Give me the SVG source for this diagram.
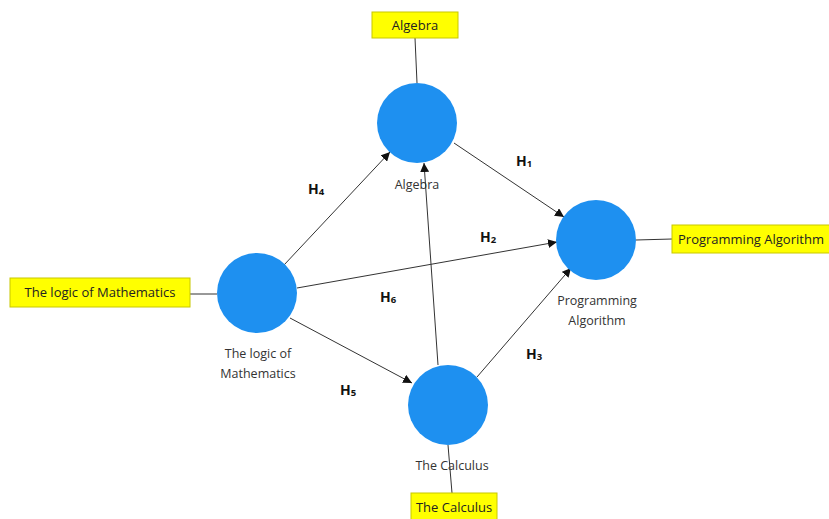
<svg xmlns="http://www.w3.org/2000/svg" width="829" height="519" viewBox="0 0 829 519">
<style>
.node{fill:#1e90f0;}
.lbl{font-family:"Open Sans","Liberation Sans",sans-serif;font-size:12.5px;fill:#333;text-anchor:middle;}
.box{fill:#ffff00;stroke:#c8c800;stroke-width:1;}
.btxt{font-family:"Open Sans","Liberation Sans",sans-serif;font-size:13px;fill:#222;}
.h{font-family:"Open Sans","Liberation Sans",sans-serif;font-size:14px;font-weight:bold;fill:#111;}
.sub{font-size:9.5px;}
.c{stroke:#333;stroke-width:1;fill:none;}
.a{stroke:#333;stroke-width:1;fill:none;marker-end:url(#arr);}
</style>
<defs>
<marker id="arr" viewBox="0 0 10 10" refX="10" refY="5" markerWidth="9" markerHeight="9" markerUnits="userSpaceOnUse" orient="auto">
<path d="M0,0 L10,5 L0,10 z" fill="#111"/>
</marker>
</defs>
<rect width="829" height="519" fill="#fff"/>
<g id="connectors">
<line class="c" x1="415" y1="38" x2="417" y2="83"/>
<line class="c" x1="190" y1="294" x2="217" y2="294"/>
<line class="c" x1="636" y1="240" x2="672" y2="239"/>
<line class="c" x1="448" y1="445" x2="452" y2="493"/>
<line class="a" x1="284" y1="265" x2="390" y2="152"/>
<line class="a" x1="454" y1="143" x2="564" y2="217"/>
<line class="a" x1="297" y1="288" x2="557" y2="242"/>
<line class="a" x1="438" y1="365" x2="424" y2="163"/>
<line class="a" x1="290" y1="318" x2="412" y2="383"/>
<line class="a" x1="477" y1="377" x2="571" y2="268"/>
</g>
<g id="algebra">
<circle class="node" cx="417" cy="123" r="40"/>
<text class="lbl" x="417" y="189">Algebra</text>
</g>
<g id="logic">
<circle class="node" cx="257" cy="293" r="40"/>
<text class="lbl" x="258" y="358">The logic of</text>
<text class="lbl" x="258" y="378">Mathematics</text>
</g>
<g id="programming">
<circle class="node" cx="596" cy="240" r="40"/>
<text class="lbl" x="597" y="305">Programming</text>
<text class="lbl" x="597" y="325">Algorithm</text>
</g>
<g id="calculus">
<circle class="node" cx="448" cy="405" r="40"/>
<text class="lbl" x="452" y="470">The Calculus</text>
</g>
<g id="algebra-ind">
<rect class="box" x="372" y="12" width="86" height="26"/>
<text class="btxt" x="415" y="30" text-anchor="middle">Algebra</text>
</g>
<g id="logic-ind">
<rect class="box" x="10" y="278" width="180" height="29"/>
<text class="btxt" x="100" y="297" text-anchor="middle">The logic of Mathematics</text>
</g>
<g id="programming-ind">
<rect class="box" x="672" y="225" width="160" height="28"/>
<text class="btxt" x="678" y="244">Programming Algorithm</text>
</g>
<g id="calculus-ind">
<rect class="box" x="411" y="493" width="86" height="28"/>
<text class="btxt" x="454" y="512" text-anchor="middle">The Calculus</text>
</g>
<g id="hyp-labels">
<text class="h" x="516" y="166">H<tspan class="sub" dy="1">1</tspan></text>
<text class="h" x="308" y="194">H<tspan class="sub" dy="1">4</tspan></text>
<text class="h" x="480" y="242">H<tspan class="sub" dy="1">2</tspan></text>
<text class="h" x="380" y="302">H<tspan class="sub" dy="1">6</tspan></text>
<text class="h" x="340" y="395">H<tspan class="sub" dy="1">5</tspan></text>
<text class="h" x="526" y="359">H<tspan class="sub" dy="1">3</tspan></text>
</g>
</svg>
